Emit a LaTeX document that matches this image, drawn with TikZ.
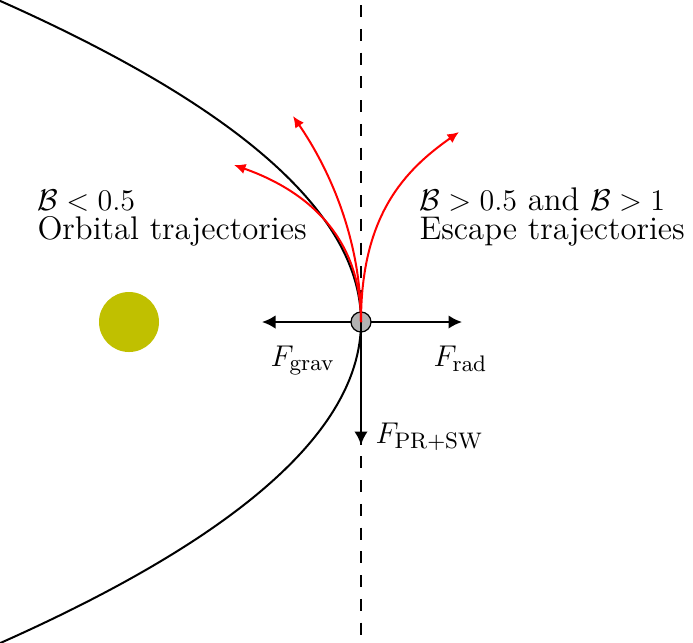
\documentclass[tikz,border=0pt]{standalone}
\usetikzlibrary{arrows.meta}
\definecolor{sunc}{RGB}{192,192,0}
\begin{document}
\begin{tikzpicture}[x=0.4pt,y=-0.4pt,
  lbl/.style={inner sep=0pt,anchor=base west,font=\fontsize{13.1}{15}\selectfont},
  force/.style={line width=0.8pt,-{Latex[length=5.4pt,width=5.4pt]}},
  traj/.style={red,line width=0.8pt,-{Latex[length=4.6pt,width=4.2pt]}},
  orbit/.style={black,line width=0.8pt},
  axisline/.style={black,line width=0.8pt,dash pattern=on 4.8pt off 4.7pt}]
\useasboundingbox (0,0) rectangle (693,642);
\clip (0,0) rectangle (693,642);
% dashed axis
\coordinate (top) at (361,5);
\coordinate (bot) at (361,645);
\draw[axisline] (top) -- (bot);
% sun
\node[circle,fill=sunc,minimum size=24pt,inner sep=0pt] (sun) at (129,322) {};
% particle position
\coordinate (p) at (361,322);
\coordinate (gl) at (262,322);
\coordinate (rr) at (462,322);
\coordinate (dd) at (361,445);
% horizontal forces
\draw[force] (p) -- (gl);
\draw[force] (p) -- (rr);
% orbit (parabola)
\draw[orbit] plot[domain=-3.4:3.4,samples=80,smooth] ({361-35*\x*\x},{322+100*\x});
% particle
\node[circle,draw=black,fill=gray!60,line width=0.5pt,minimum size=8pt,inner sep=0pt] (dust) at (p) {};
% downward force
\draw[force] (p) -- (dd);
% red trajectories
\coordinate (t1) at (234,165);
\coordinate (t2) at (293,116);
\coordinate (t3) at (459,132);
\draw[traj] (p) .. controls (361,235) and (305,190) .. (t1);
\draw[traj] (p) .. controls (361,240) and (330,170) .. (t2);
\draw[traj] (p) .. controls (361,215) and (405,170) .. (t3);
% labels
\node[lbl] (l1) at (37,210) {$\mathcal{B} < 0.5$};
\node[lbl] (l2) at (37,239) {Orbital trajectories};
\node[lbl] (r1) at (419,210) {$\mathcal{B} > 0.5$ and $\mathcal{B} > 1$};
\node[lbl] (r2) at (419,239) {Escape trajectories};
\node[lbl] (fg) at (270,366) {$F_{\mathrm{grav}}$};
\node[lbl] (fr) at (433,366) {$F_{\mathrm{rad}}$};
\node[lbl] (fp) at (375,443) {$F_{\mathrm{PR+SW}}$};
\end{tikzpicture}
\end{document}
